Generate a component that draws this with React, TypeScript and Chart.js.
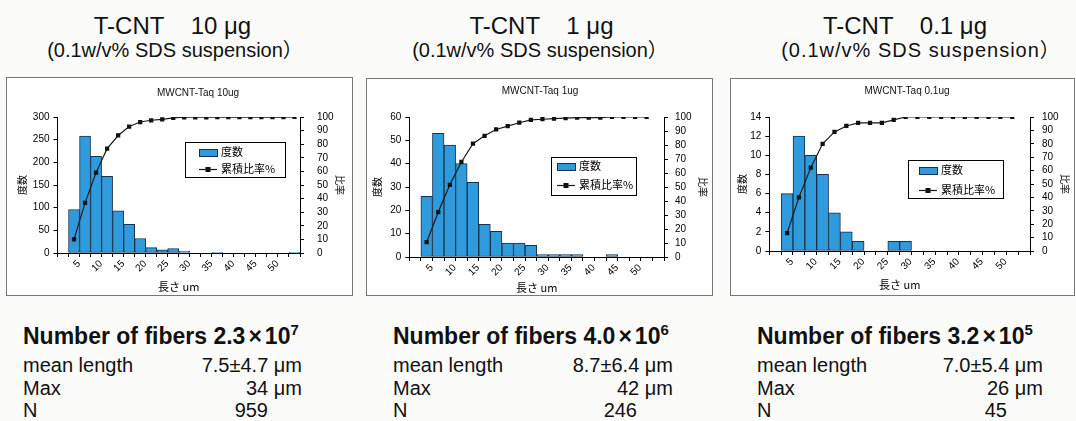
import React, { useEffect, useRef } from 'react';
import { Chart, registerables } from 'chart.js';
Chart.register(...registerables);

const FONT = '"Liberation Sans", Arial, "Noto Sans CJK JP", sans-serif';
const FONT_JP = '"Noto Sans CJK JP", "Liberation Sans", sans-serif';

// ---------- data ----------
const lengthLabels = ['', '5', '', '10', '', '15', '', '20', '', '25', '', '30', '', '35', '', '40', '', '45', '', '50', '', ''];

const count10ug = [null, 96, 258, 213, 169, 93, 63, 32, 12, 7, 10, 4, 0, 0, 1, 0, 0, 0, 0, 0, 0, 1];
const cumulative10ug = [null, 10.0, 36.9, 59.1, 76.7, 86.4, 93.0, 96.3, 97.6, 98.3, 99.4, 99.8, 99.8, 99.8, 99.9, 99.9, 99.9, 99.9, 99.9, 99.9, 99.9, 100];

const count1ug = [null, 26, 53, 48, 40, 32, 14, 11, 6, 6, 5, 1, 1, 1, 1, 0, 0, 1, 0, 0, 0, null];
const cumulative1ug = [null, 10.6, 32.1, 51.6, 67.9, 80.9, 86.6, 91.1, 93.5, 95.9, 98.0, 98.4, 98.8, 99.2, 99.6, 99.6, 99.6, 100, 100, 100, 100, null];

const count01ug = [null, 6, 12, 10, 8, 4, 2, 1, 0, 0, 1, 1, 0, 0, 0, 0, 0, 0, 0, 0, 0, null];
const cumulative01ug = [null, 13.3, 40.0, 62.2, 80.0, 88.9, 93.3, 95.6, 95.6, 95.6, 97.8, 100, 100, 100, 100, 100, 100, 100, 100, 100, 100, null];

const countAxisMax = [300, 60, 14];
const countAxisStep = [50, 10, 2];

const headings = ['T-CNT    10 μg', 'T-CNT    1 μg', 'T-CNT    0.1 μg'];
const subtitle = '(0.1w/v% SDS suspension）';
const chartTitles = ['MWCNT-Taq 10ug', 'MWCNT-Taq 1ug', 'MWCNT-Taq 0.1ug'];
const fiberMantissa = ['2.3', '4.0', '3.2'];
const fiberExponent = ['7', '6', '5'];
const meanLengths = ['7.5±4.7 μm', '8.7±6.4 μm', '7.0±5.4 μm'];
const maxLengths = ['34 μm', '42 μm', '26 μm'];
const sampleN = ['959', '246', '45'];

// ---------- layout ----------
const chartLayouts = [
  { box: { x: 6, y: 77, w: 347, h: 219 }, area: { l: 57.5, r: 300, t: 117, b: 253 }, y2Pad: 13, titleCx: 198, titleCy: 93, yTitleX: 22, y2TitleX: 340, xTitleY: 287, legend: { x: 185, y: 142, w: 100, h: 35, sx: 14, y1: 10, y2: 27 } },
  { box: { x: 366, y: 78, w: 347, h: 218 }, area: { l: 409.3, r: 664, t: 117, b: 257 }, y2Pad: 7, titleCx: 540, titleCy: 91, yTitleX: 377, y2TitleX: 703, xTitleY: 288, legend: { x: 551, y: 157, w: 85, h: 38, sx: 6, y1: 9, y2: 28 } },
  { box: { x: 730, y: 78, w: 345, h: 218 }, area: { l: 769.3, r: 1030, t: 117, b: 251 }, y2Pad: 8, titleCx: 907, titleCy: 91, yTitleX: 742, y2TitleX: 1065, xTitleY: 285, legend: { x: 908, y: 160, w: 95, h: 38, sx: 11, y1: 10, y2: 30 } },
];

const textLayouts = [
  { headCx: 172.5, subCx: 175, subSpacing: 0, statsX: 23, valueRight: 302, nRight: 268 },
  { headCx: 541.5, subCx: 540, subSpacing: 0, statsX: 393, valueRight: 673, nRight: 637 },
  { headCx: 905, subCx: 921, subSpacing: 1, statsX: 757, valueRight: 1043, nRight: 1007 },
];

const BAR_FILL = '#2f9bdc';
const BAR_EDGE = '#16324d';
const LINE_COLOR = '#1a1a1a';

const boxLegend = {
  id: 'boxLegend',
  afterDraw(chart: any, _args: any, opts: any) {
    const o = opts && opts.x !== undefined ? opts : chart.options.plugins.boxLegend;
    const { ctx } = chart;
    const line = chart.data.datasets[0];
    const bar = chart.data.datasets[1];
    ctx.save();
    ctx.fillStyle = '#ffffff';
    ctx.fillRect(o.x, o.y, o.w, o.h);
    ctx.strokeStyle = '#000';
    ctx.lineWidth = 1;
    ctx.strokeRect(Math.round(o.x) + 0.5, Math.round(o.y) + 0.5, o.w, o.h);
    const sx = o.x + o.sx;
    ctx.fillStyle = bar.backgroundColor;
    ctx.fillRect(sx, o.y + o.y1 - 3, 18, 7);
    ctx.strokeStyle = bar.borderColor;
    ctx.strokeRect(Math.round(sx) + 0.5, Math.round(o.y + o.y1 - 3) + 0.5, 18, 7);
    ctx.fillStyle = '#000';
    ctx.font = o.font;
    ctx.textBaseline = 'middle';
    ctx.textAlign = 'left';
    ctx.fillText(bar.label, sx + 22, o.y + o.y1);
    ctx.strokeStyle = line.borderColor;
    ctx.lineWidth = line.borderWidth;
    ctx.beginPath();
    ctx.moveTo(sx, o.y + o.y2 + 0.5);
    ctx.lineTo(sx + 18, o.y + o.y2 + 0.5);
    ctx.stroke();
    ctx.fillStyle = line.pointBackgroundColor;
    ctx.fillRect(sx + 9 - 2.5, o.y + o.y2 - 2, 5, 5);
    ctx.fillStyle = '#000';
    ctx.fillText(line.label, sx + 22, o.y + o.y2);
    ctx.restore();
  },
};

type HistProps = { idx: number; counts: (number | null)[]; cumulative: (number | null)[] };

function HistChart({ idx, counts, cumulative }: HistProps) {
  const ref = useRef<HTMLCanvasElement>(null);
  const L = chartLayouts[idx];
  const W = L.box.w;
  const H = L.box.h;
  useEffect(() => {
    const cx = L.titleCx - L.box.x;
    const diff = 2 * cx - W; // >0 : title right of centre
    const padL = diff < 0 ? diff : 0;
    const padR = diff > 0 ? -diff : 0;
    const left = L.area.l - L.box.x;
    const right = L.area.r - L.box.x;
    const top = L.area.t - L.box.y;
    const bottom = L.area.b - L.box.y;
    const tcy = L.titleCy - L.box.y;
    const tLh = 12;
    const yLh = 12;
    const xLh = 13.2;
    const lg = L.legend;
    const chart = new Chart(ref.current as HTMLCanvasElement, {
      type: 'bar',
      data: {
        labels: lengthLabels,
        datasets: [
          {
            type: 'line',
            label: '累積比率%',
            data: cumulative,
            yAxisID: 'y2',
            borderColor: LINE_COLOR,
            borderWidth: 1.2,
            pointStyle: 'rect',
            pointRadius: 3,
            pointBackgroundColor: '#111',
            pointBorderColor: '#111',
            pointBorderWidth: 0,
            tension: 0,
            order: 0,
          } as any,
          {
            type: 'bar',
            label: '度数',
            data: counts,
            yAxisID: 'y',
            backgroundColor: BAR_FILL,
            borderColor: BAR_EDGE,
            borderWidth: 1,
            borderSkipped: false,
            barPercentage: 1,
            categoryPercentage: 1,
            order: 1,
          } as any,
        ],
      },
      options: {
        animation: false,
        responsive: false,
        devicePixelRatio: 1,
        layout: { padding: { left: padL, right: padR, top: 0, bottom: 0 } },
        plugins: {
          legend: { display: false },
          tooltip: { enabled: false },
          title: {
            display: true,
            text: chartTitles[idx],
            color: '#111',
            font: { family: FONT, size: 10, weight: 'normal', lineHeight: 1.2 },
            padding: { top: tcy - tLh / 2, bottom: top - tcy - tLh / 2 },
          },
          boxLegend: {
            x: lg.x - L.box.x,
            y: lg.y - L.box.y,
            w: lg.w,
            h: lg.h,
            sx: lg.sx,
            y1: lg.y1,
            y2: lg.y2,
            font: '11px ' + FONT_JP,
          },
        } as any,
        scales: {
          x: {
            type: 'category',
            grid: { drawOnChartArea: false, drawTicks: true, tickLength: 4, color: '#000', offset: true },
            border: { display: true, color: '#000', width: 1 },
            ticks: { autoSkip: false, minRotation: 45, maxRotation: 45, labelOffset: 5, padding: 1, color: '#000', font: { family: FONT, size: 10 } },
            title: { display: true, text: '長さ um', color: '#000', font: { family: FONT_JP, size: 11, lineHeight: 1.2 }, padding: { top: 0, bottom: H - (L.xTitleY - L.box.y) - xLh / 2 } },
            afterFit: (s: any) => { s.height = H - bottom; },
          },
          y: {
            type: 'linear',
            position: 'left',
            min: 0,
            max: countAxisMax[idx],
            grid: { drawOnChartArea: false, drawTicks: true, tickLength: 4, color: '#000' },
            border: { display: true, color: '#000', width: 1 },
            ticks: { stepSize: countAxisStep[idx], autoSkip: false, padding: 4, color: '#000', font: { family: FONT, size: 10 } },
            title: { display: true, text: '度数', color: '#000', font: { family: FONT_JP, size: 10, lineHeight: 1.2 }, padding: { top: (L.yTitleX - L.box.x) - padL - yLh / 2, bottom: 0 } },
            afterFit: (s: any) => { s.width = left - padL; },
          },
          y2: {
            type: 'linear',
            position: 'right',
            min: 0,
            max: 100,
            grid: { drawOnChartArea: false, drawTicks: true, tickLength: 4, color: '#000' },
            border: { display: true, color: '#000', width: 1 },
            ticks: { stepSize: 10, autoSkip: false, padding: L.y2Pad, color: '#000', font: { family: FONT, size: 10 } },
            title: { display: true, text: '比率', color: '#000', font: { family: FONT_JP, size: 10, lineHeight: 1.2 }, padding: { top: W - padR - (L.y2TitleX - L.box.x) - yLh / 2, bottom: 0 } },
            afterFit: (s: any) => { s.width = W - padR - right; },
          },
        } as any,
      },
      plugins: [boxLegend as any],
    });
    return () => chart.destroy();
  }, []);
  return (
    <>
      <div style={{ position: 'absolute', left: L.box.x, top: L.box.y, width: W, height: H, boxSizing: 'border-box', border: '1px solid #777', background: '#fff' }} />
      <canvas ref={ref} width={W} height={H} style={{ position: 'absolute', left: L.box.x, top: L.box.y, width: W, height: H }} />
    </>
  );
}

function PanelText({ idx }: { idx: number }) {
  const T = textLayouts[idx];
  const base: React.CSSProperties = { position: 'absolute', fontFamily: FONT, color: '#111', lineHeight: 1, whiteSpace: 'pre' };
  return (
    <>
      <div style={{ ...base, left: T.headCx - 200, width: 400, textAlign: 'center', top: 14, fontSize: 24 }}>{headings[idx]}</div>
      <div style={{ ...base, left: T.subCx - 200, width: 400, textAlign: 'center', top: 40, fontSize: 20, letterSpacing: T.subSpacing }}>{subtitle}</div>
      <div style={{ ...base, left: T.statsX, top: 325, fontSize: 23, fontWeight: 'bold' }}>
        Number of fibers {fiberMantissa[idx]}<span style={{ margin: '0 3px' }}>×</span>10<span style={{ fontSize: 15, position: 'relative', top: -9 }}>{fiberExponent[idx]}</span>
      </div>
      <div style={{ ...base, left: T.statsX, top: 355, fontSize: 20 }}>mean length</div>
      <div style={{ ...base, left: T.valueRight - 200, width: 200, textAlign: 'right', top: 355, fontSize: 20 }}>{meanLengths[idx]}</div>
      <div style={{ ...base, left: T.statsX, top: 378, fontSize: 20 }}>Max</div>
      <div style={{ ...base, left: T.valueRight - 200, width: 200, textAlign: 'right', top: 378, fontSize: 20 }}>{maxLengths[idx]}</div>
      <div style={{ ...base, left: T.statsX, top: 400, fontSize: 20 }}>N</div>
      <div style={{ ...base, left: T.nRight - 200, width: 200, textAlign: 'right', top: 400, fontSize: 20 }}>{sampleN[idx]}</div>
    </>
  );
}

export default function App() {
  useEffect(() => {
    document.body.style.margin = '0';
  }, []);
  return (
    <div style={{ position: 'absolute', left: 0, top: 0, width: 1076, height: 421, background: '#fbfbfa', overflow: 'hidden' }}>
      <PanelText idx={0} />
      <PanelText idx={1} />
      <PanelText idx={2} />
      <HistChart idx={0} counts={count10ug} cumulative={cumulative10ug} />
      <HistChart idx={1} counts={count1ug} cumulative={cumulative1ug} />
      <HistChart idx={2} counts={count01ug} cumulative={cumulative01ug} />
    </div>
  );
}
